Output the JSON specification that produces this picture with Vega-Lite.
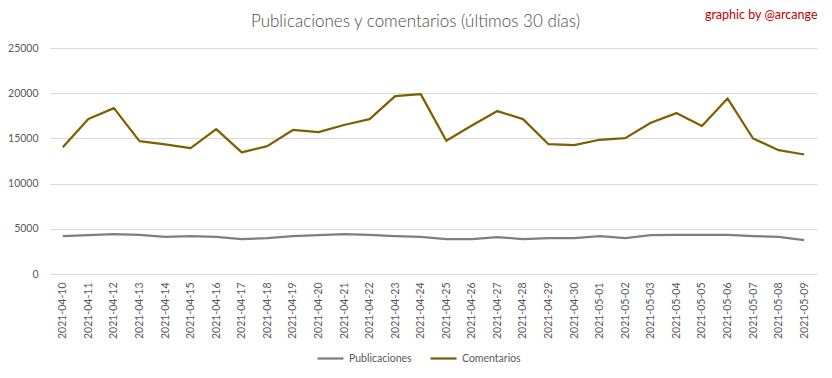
{
  "$schema": "https://vega.github.io/schema/vega-lite/v6.json",
  "width": 767,
  "height": 226,
  "autosize": {"type": "none"},
  "padding": {"left": 50, "top": 48, "right": 15, "bottom": 104},
  "background": "white",
  "title": {
    "text": "Publicaciones y comentarios (últimos 30 días)",
    "anchor": "middle",
    "frame": "group",
    "dx": -18,
    "offset": -23,
    "font": "Lato",
    "fontSize": 17,
    "fontWeight": 300,
    "color": "#4d4d4d"
  },
  "config": {
    "font": "Lato",
    "view": {"stroke": null},
    "axis": {"labelColor": "#595959", "labelFont": "Lato", "labelFontSize": 10.5}
  },
  "data": {
    "values": [
      {"date": "2021-04-10", "series": "Publicaciones", "value": 4200},
      {"date": "2021-04-11", "series": "Publicaciones", "value": 4300},
      {"date": "2021-04-12", "series": "Publicaciones", "value": 4420},
      {"date": "2021-04-13", "series": "Publicaciones", "value": 4330},
      {"date": "2021-04-14", "series": "Publicaciones", "value": 4100},
      {"date": "2021-04-15", "series": "Publicaciones", "value": 4200},
      {"date": "2021-04-16", "series": "Publicaciones", "value": 4100},
      {"date": "2021-04-17", "series": "Publicaciones", "value": 3850},
      {"date": "2021-04-18", "series": "Publicaciones", "value": 3980},
      {"date": "2021-04-19", "series": "Publicaciones", "value": 4200},
      {"date": "2021-04-20", "series": "Publicaciones", "value": 4300},
      {"date": "2021-04-21", "series": "Publicaciones", "value": 4420},
      {"date": "2021-04-22", "series": "Publicaciones", "value": 4330},
      {"date": "2021-04-23", "series": "Publicaciones", "value": 4200},
      {"date": "2021-04-24", "series": "Publicaciones", "value": 4100},
      {"date": "2021-04-25", "series": "Publicaciones", "value": 3870},
      {"date": "2021-04-26", "series": "Publicaciones", "value": 3870},
      {"date": "2021-04-27", "series": "Publicaciones", "value": 4080},
      {"date": "2021-04-28", "series": "Publicaciones", "value": 3870},
      {"date": "2021-04-29", "series": "Publicaciones", "value": 3980},
      {"date": "2021-04-30", "series": "Publicaciones", "value": 3980},
      {"date": "2021-05-01", "series": "Publicaciones", "value": 4200},
      {"date": "2021-05-02", "series": "Publicaciones", "value": 3980},
      {"date": "2021-05-03", "series": "Publicaciones", "value": 4300},
      {"date": "2021-05-04", "series": "Publicaciones", "value": 4330},
      {"date": "2021-05-05", "series": "Publicaciones", "value": 4330},
      {"date": "2021-05-06", "series": "Publicaciones", "value": 4330},
      {"date": "2021-05-07", "series": "Publicaciones", "value": 4200},
      {"date": "2021-05-08", "series": "Publicaciones", "value": 4100},
      {"date": "2021-05-09", "series": "Publicaciones", "value": 3750},
      {"date": "2021-04-10", "series": "Comentarios", "value": 14030},
      {"date": "2021-04-11", "series": "Comentarios", "value": 17150},
      {"date": "2021-04-12", "series": "Comentarios", "value": 18350},
      {"date": "2021-04-13", "series": "Comentarios", "value": 14700},
      {"date": "2021-04-14", "series": "Comentarios", "value": 14350},
      {"date": "2021-04-15", "series": "Comentarios", "value": 13920},
      {"date": "2021-04-16", "series": "Comentarios", "value": 16020},
      {"date": "2021-04-17", "series": "Comentarios", "value": 13450},
      {"date": "2021-04-18", "series": "Comentarios", "value": 14140},
      {"date": "2021-04-19", "series": "Comentarios", "value": 15930},
      {"date": "2021-04-20", "series": "Comentarios", "value": 15690},
      {"date": "2021-04-21", "series": "Comentarios", "value": 16480},
      {"date": "2021-04-22", "series": "Comentarios", "value": 17130},
      {"date": "2021-04-23", "series": "Comentarios", "value": 19680},
      {"date": "2021-04-24", "series": "Comentarios", "value": 19900},
      {"date": "2021-04-25", "series": "Comentarios", "value": 14740},
      {"date": "2021-04-26", "series": "Comentarios", "value": 16430},
      {"date": "2021-04-27", "series": "Comentarios", "value": 18020},
      {"date": "2021-04-28", "series": "Comentarios", "value": 17130},
      {"date": "2021-04-29", "series": "Comentarios", "value": 14360},
      {"date": "2021-04-30", "series": "Comentarios", "value": 14250},
      {"date": "2021-05-01", "series": "Comentarios", "value": 14850},
      {"date": "2021-05-02", "series": "Comentarios", "value": 15030},
      {"date": "2021-05-03", "series": "Comentarios", "value": 16730},
      {"date": "2021-05-04", "series": "Comentarios", "value": 17800},
      {"date": "2021-05-05", "series": "Comentarios", "value": 16360},
      {"date": "2021-05-06", "series": "Comentarios", "value": 19420},
      {"date": "2021-05-07", "series": "Comentarios", "value": 14990},
      {"date": "2021-05-08", "series": "Comentarios", "value": 13700},
      {"date": "2021-05-09", "series": "Comentarios", "value": 13220}
    ]
  },
  "resolve": {"axis": {"x": "independent"}},
  "layer": [
    {
      "mark": {"type": "line", "strokeWidth": 2.25, "strokeJoin": "round"},
      "encoding": {
        "x": {
          "field": "date",
          "type": "ordinal",
          "scale": {"type": "point", "padding": 0.5},
          "axis": {
            "title": null,
            "labelAngle": -90,
            "labelPadding": 8,
            "ticks": false,
            "domain": false,
            "grid": false
          }
        },
        "y": {
          "field": "value",
          "type": "quantitative",
          "scale": {"domain": [0, 25000], "nice": false},
          "axis": {
            "title": null,
            "values": [0, 5000, 10000, 15000, 20000, 25000],
            "format": "d",
            "ticks": false,
            "domain": false,
            "labelPadding": 12,
            "gridColor": "#d9d9d9",
            "gridWidth": 1
          }
        },
        "color": {
          "field": "series",
          "type": "nominal",
          "scale": {"domain": ["Publicaciones", "Comentarios"], "range": ["#7f7f7f", "#7f6000"]},
          "legend": {
            "title": null,
            "orient": "none",
            "legendX": 266,
            "legendY": 296,
            "direction": "horizontal",
            "symbolType": "stroke",
            "symbolSize": 676,
            "symbolStrokeWidth": 2.25,
            "labelFont": "Lato",
            "labelFontSize": 10.5,
            "labelColor": "#595959",
            "labelOffset": 4,
            "columnPadding": 14
          }
        }
      }
    },
    {
      "mark": {"type": "line", "opacity": 0},
      "encoding": {
        "x": {
          "field": "date",
          "type": "ordinal",
          "axis": {
            "orient": "top",
            "labels": false,
            "ticks": false,
            "domain": false,
            "grid": false,
            "title": "graphic by @arcange",
            "titleAnchor": "end",
            "titleFont": "Lato",
            "titleFontSize": 12.5,
            "titleFontWeight": "normal",
            "titleColor": "#c00000",
            "titlePadding": 27
          }
        },
        "y": {"field": "value", "type": "quantitative"},
        "detail": {"field": "series"}
      }
    }
  ]
}
